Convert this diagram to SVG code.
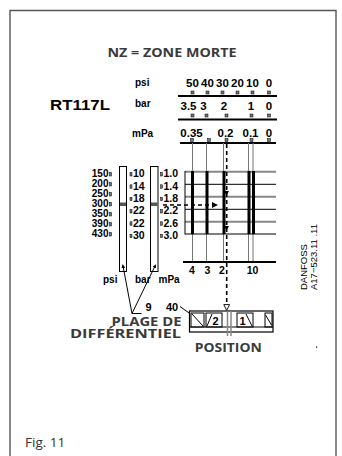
<svg xmlns="http://www.w3.org/2000/svg" width="342" height="456" viewBox="0 0 342 456">
<style>
.b{font-family:"Liberation Sans",Arial,sans-serif;font-weight:bold;fill:#000}
.n{font-size:10px}
.m{font-size:10.5px}
.s{font-size:11.5px}
.h{font-family:"Open Sans","Liberation Sans",sans-serif;font-weight:bold;fill:#3a3a3a}
.r{font-family:"Liberation Sans",Arial,sans-serif;fill:#000;font-size:9.5px}
.thin{stroke:#777;stroke-width:1;fill:none}
.thick{stroke:#000;stroke-width:3;fill:none}
.ax{stroke:#000;stroke-width:2;fill:none}
.mk{fill:#777;stroke:#000;stroke-width:0.5}
.gl{stroke:#888;stroke-width:2}
.bl{stroke:#000;stroke-width:1}
.dash{stroke:#000;stroke-width:1.6;stroke-dasharray:4 3;fill:none}
.ld{fill:none;stroke:#000;stroke-width:1}
</style>
<defs>
<marker id="af" viewBox="0 0 6 6" refX="0" refY="3" markerWidth="6" markerHeight="6" markerUnits="userSpaceOnUse" orient="auto"><path d="M0,0 L6,3 L0,6 Z" fill="#000"/></marker>
<marker id="ao" viewBox="0 0 6 6" refX="0" refY="3" markerWidth="7" markerHeight="7" markerUnits="userSpaceOnUse" orient="auto"><path d="M0.5,0.5 L5.5,3 L0.5,5.5 Z" fill="#fff" stroke="#000" stroke-width="0.8"/></marker>
<marker id="as" viewBox="0 0 6 6" refX="3" refY="3" markerWidth="4" markerHeight="4" markerUnits="userSpaceOnUse" orient="auto"><path d="M0,0 L6,3 L0,6 Z" fill="#000"/></marker>
</defs>
<rect width="342" height="456" fill="#fff"/>
<path d="M10,456 V10.5 H336 V456" fill="none" stroke="#555" stroke-width="1.4"/>

<g id="title"><text class="h" x="172" y="56.5" font-size="12.5" text-anchor="middle" textLength="129" lengthAdjust="spacingAndGlyphs">NZ = ZONE MORTE</text></g>
<g id="model"><text class="b" x="50" y="110" font-size="15" textLength="60" lengthAdjust="spacingAndGlyphs">RT117L</text></g>

<g id="top-scales">
<text class="b n" x="135" y="85.5">psi</text>
<text class="b n" x="135" y="106.5">bar</text>
<text class="b n" x="132" y="136.5">mPa</text>
<g class="b s" text-anchor="middle">
<text x="192.5" y="87">50</text><text x="207.5" y="87">40</text><text x="222.5" y="87">30</text><text x="237.5" y="87">20</text><text x="252.5" y="87">10</text><text x="269" y="87">0</text>
<text x="188.5" y="110">3.5</text><text x="203.5" y="110">3</text><text x="224" y="110">2</text><text x="251" y="110">1</text><text x="269" y="110">0</text>
<text x="191.5" y="137">0.35</text><text x="225.5" y="137">0.2</text><text x="250.5" y="137">0.1</text><text x="269" y="137">0</text>
</g>
<path class="ax" d="M178,96 H277 M178,119.5 H277 M180,143 H276"/>
<g class="mk">
<rect x="191" y="91" width="3" height="3"/><rect x="206" y="91" width="3" height="3"/><rect x="221" y="91" width="3" height="3"/><rect x="236" y="91" width="3" height="3"/><rect x="251" y="91" width="3" height="3"/><rect x="267.5" y="91" width="3" height="3"/>
<rect x="191" y="114" width="3" height="3"/><rect x="205" y="114" width="3" height="3"/><rect x="225" y="114" width="3" height="3"/><rect x="250" y="114" width="3" height="3"/><rect x="267.5" y="114" width="3" height="3"/>
<rect x="190.5" y="138.5" width="3" height="3"/><rect x="207.5" y="138.5" width="3" height="3"/><rect x="225" y="138.5" width="3" height="3"/><rect x="250" y="138.5" width="3" height="3"/><rect x="267.5" y="138.5" width="3" height="3"/>
</g>
</g>

<g id="grid">
<path class="thin" d="M192.5,143 V262 M206.5,143 V262 M223.5,143 V262 M248.5,143 V262 M253,143 V262"/>
<path class="gl" d="M185,171.7 H276 M185,196.7 H276 M185,221.7 H276"/>
<path class="bl" d="M185,184.3 H276 M185,209.3 H276 M185,234 H276 M185,171 V234.5"/>
<path class="thick" d="M192.5,171 V234 M207,171 V234 M224,171 V234 M249,171 V234 M253.5,171 V234"/>
<path class="ax" d="M183,262 H276"/>
<g class="b m" text-anchor="middle">
<text x="192" y="273.5">4</text><text x="207.5" y="273.5">3</text><text x="222" y="273.5">2</text><text x="252.5" y="273.5">10</text>
</g>
</g>

<g id="left-scales">
<g class="b n" text-anchor="end">
<text x="108.5" y="177.3">150</text><text x="108.5" y="187.3">200</text><text x="108.5" y="197.3">250</text><text x="108.5" y="207.3">300</text><text x="108.5" y="217.3">350</text><text x="108.5" y="227.3">390</text><text x="108.5" y="237.3">430</text>
</g>
<g class="mk">
<rect x="109.5" y="172.5" width="2" height="3.5"/><rect x="109.5" y="182.5" width="2" height="3.5"/><rect x="109.5" y="192.5" width="2" height="3.5"/><rect x="109.5" y="202.5" width="2" height="3.5"/><rect x="109.5" y="212.5" width="2" height="3.5"/><rect x="109.5" y="222.5" width="2" height="3.5"/><rect x="109.5" y="232.5" width="2" height="3.5"/>
<rect x="130" y="172.5" width="2" height="3.5"/><rect x="130" y="184.8" width="2" height="3.5"/><rect x="130" y="197.2" width="2" height="3.5"/><rect x="130" y="209.5" width="2" height="3.5"/><rect x="130" y="221.8" width="2" height="3.5"/><rect x="130" y="234.2" width="2" height="3.5"/>
<rect x="160.5" y="172.5" width="2" height="3.5"/><rect x="160.5" y="184.8" width="2" height="3.5"/><rect x="160.5" y="197.2" width="2" height="3.5"/><rect x="160.5" y="209.5" width="2" height="3.5"/><rect x="160.5" y="221.8" width="2" height="3.5"/><rect x="160.5" y="234.2" width="2" height="3.5"/>
</g>
<g class="b m">
<text x="133" y="177.3">10</text><text x="133" y="189.6">14</text><text x="133" y="202">18</text><text x="133" y="214.3">22</text><text x="133" y="226.6">22</text><text x="133" y="239">30</text>
<text x="163.5" y="177.3">1.0</text><text x="163.5" y="189.6">1.4</text><text x="163.5" y="202">1.8</text><text x="163.5" y="214.3">2.2</text><text x="163.5" y="226.6">2.6</text><text x="163.5" y="239">3.0</text>
</g>
</g>

<g id="columns">
<rect x="119.5" y="166.5" width="7" height="105" fill="#fff" stroke="#000" stroke-width="1"/>
<rect x="150.5" y="166.5" width="7.5" height="105" fill="#fff" stroke="#000" stroke-width="1"/>
<rect x="120" y="202.5" width="6" height="3.5" fill="#555"/>
<rect x="151" y="202.5" width="6.5" height="3.5" fill="#555"/>
<g class="b n">
<text x="103" y="282.5">psi</text><text x="135" y="282.5">bar</text><text x="158.5" y="282.5">mPa</text>
</g>
</g>

<g id="connectors">
<path class="dash" d="M163,205 H212" marker-end="url(#af)"/>
<path class="dash" d="M226.7,144 V304" marker-end="url(#ao)"/>
<path d="M224,191 L229,191 L226.5,195.5 Z M224,226 L229,226 L226.5,230.5 Z" fill="#000"/>
<path class="ld" d="M132,313.5 L123,266" marker-end="url(#as)"/>
<path class="ld" d="M132,313.5 L155,266" marker-end="url(#as)"/>
<path class="ld" d="M132,313.5 H141.5"/>
<path class="ld" d="M180,306.5 L201,321.5" marker-end="url(#as)"/>
</g>

<g id="diff-labels">
<text class="b" x="145.5" y="311" font-size="11">9</text>
<text class="b" x="166" y="310.5" font-size="11">40</text>
<text class="h" x="181.5" y="325.5" font-size="12.5" text-anchor="end" textLength="70" lengthAdjust="spacingAndGlyphs">PLAGE DE</text>
<text class="h" x="181" y="338" font-size="12.5" text-anchor="end" textLength="111" lengthAdjust="spacingAndGlyphs">DIFFÉRENTIEL</text>
</g>

<g id="position">
<rect x="189.5" y="311" width="83.5" height="21" fill="#fff" stroke="#000" stroke-width="1.2"/>
<path d="M189.5,327 H273" stroke="#000" stroke-width="1"/>
<rect x="191" y="313" width="13" height="14" fill="none" stroke="#000" stroke-width="1"/>
<path d="M192,314 L203,326" stroke="#000" stroke-width="1"/>
<rect x="206" y="313" width="16" height="14" fill="none" stroke="#000" stroke-width="1"/>
<path d="M207,326 L212,314" stroke="#000" stroke-width="1"/>
<text class="b" x="212.5" y="325" font-size="11">2</text>
<path d="M227.5,311 V336 M231,311 V336" stroke="#888" stroke-width="1.5"/>
<rect x="237" y="313" width="16" height="14" fill="none" stroke="#000" stroke-width="1"/>
<text class="b" x="239.5" y="325" font-size="11">1</text>
<path d="M246,314 L252,326" stroke="#000" stroke-width="1"/>
<rect x="265" y="313" width="7" height="14" fill="none" stroke="#000" stroke-width="1"/>
<path d="M265.5,315 L271.5,325" stroke="#000" stroke-width="1"/>
<text class="h" x="228.3" y="351.7" font-size="12.5" text-anchor="middle" textLength="67" lengthAdjust="spacingAndGlyphs">POSITION</text>
</g>

<g id="ref">
<text class="r" transform="translate(307,290) rotate(-90)">DANFOSS</text>
<text class="r" transform="translate(317,290) rotate(-90)">A17−523.11 .11</text>
<rect x="316" y="346.5" width="1.2" height="1.2" fill="#000"/>
</g>

<g id="fig"><text x="25" y="447" font-family="'Open Sans','Liberation Sans',sans-serif" font-size="13.5" fill="#333">Fig. 11</text></g>
</svg>
